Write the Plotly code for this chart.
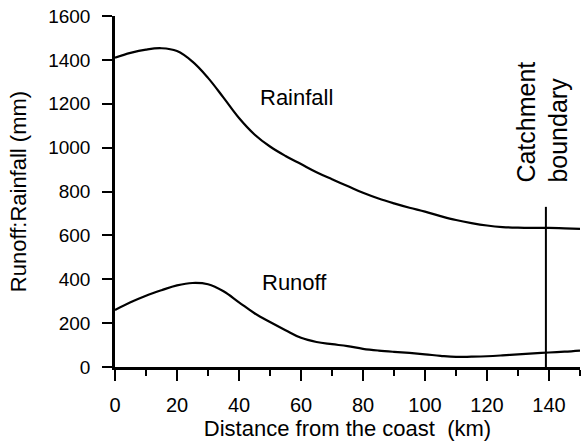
import plotly.graph_objects as go

distance_km = [0, 5, 10, 15, 20, 25, 30, 35, 40, 45, 50, 55, 60, 65, 70, 75,
               80, 85, 90, 95, 100, 105, 110, 115, 120, 125, 130, 135, 140, 145, 150]
rainfall_mm = [1410, 1432, 1447, 1453, 1440, 1392, 1318, 1228, 1135, 1060, 1005, 962,
               925, 888, 856, 825, 794, 768, 746, 726, 708, 688, 670, 656, 645, 638,
               635, 634, 634, 632, 630]
runoff_mm = [260, 295, 325, 350, 372, 383, 377, 345, 295, 245, 205, 168, 133, 114,
             104, 95, 83, 75, 69, 64, 58, 51, 46, 47, 49, 53, 58, 62, 66, 70, 75]

boundary_x = [139, 139]
boundary_y = [0, 730]

x_ticks = [0, 20, 40, 60, 80, 100, 120, 140]
y_ticks = [0, 200, 400, 600, 800, 1000, 1200, 1400, 1600]

FONT = "Liberation Sans, Arial, Helvetica, sans-serif"

fig = go.Figure()
fig.add_trace(go.Scatter(x=distance_km, y=rainfall_mm, mode="lines",
                         line=dict(color="black", width=2.2, shape="spline", smoothing=1.1),
                         showlegend=False))
fig.add_trace(go.Scatter(x=distance_km, y=runoff_mm, mode="lines",
                         line=dict(color="black", width=2.2, shape="spline", smoothing=1.1),
                         showlegend=False))
fig.add_trace(go.Scatter(x=boundary_x, y=boundary_y, mode="lines",
                         line=dict(color="black", width=2), showlegend=False))

fig.add_annotation(x=58.7, y=1230, text="Rainfall", showarrow=False,
                   font=dict(family=FONT, size=22, color="black"))
fig.add_annotation(x=58, y=387, text="Runoff", showarrow=False,
                   font=dict(family=FONT, size=22, color="black"))
fig.add_annotation(x=137.8, y=830, text="Catchment<br>boundary", showarrow=False,
                   textangle=-90, align="left", xanchor="center", yanchor="bottom",
                   font=dict(family=FONT, size=25, color="black"))

fig.update_layout(
    width=581, height=448,
    margin=dict(l=115, r=1, t=16, b=81),
    paper_bgcolor="white", plot_bgcolor="white",
    font=dict(family=FONT, color="black"),
    xaxis=dict(
        range=[0, 150], tickvals=x_ticks, ticks="outside", ticklen=11, tickwidth=2,
        tickcolor="black", showline=True, linewidth=2.5, linecolor="black",
        showgrid=False, zeroline=False, tickfont=dict(size=20),
        ticklabelstandoff=7,
        minor=dict(dtick=10, ticks="outside", ticklen=6, tickwidth=2, tickcolor="black",
                   showgrid=False),
        title=dict(text="Distance from the coast  (km)", standoff=2,
                   font=dict(family=FONT, size=22)),
    ),
    yaxis=dict(
        range=[0, 1600], tickvals=y_ticks, ticks="outside", ticklen=10, tickwidth=2,
        tickcolor="black", showline=True, linewidth=2.5, linecolor="black",
        showgrid=False, zeroline=False, tickfont=dict(size=19),
        ticklabelstandoff=8,
        title=dict(text="Runoff:Rainfall (mm)", standoff=16,
                   font=dict(family=FONT, size=22)),
    ),
)

fig.write_html("out.html")
